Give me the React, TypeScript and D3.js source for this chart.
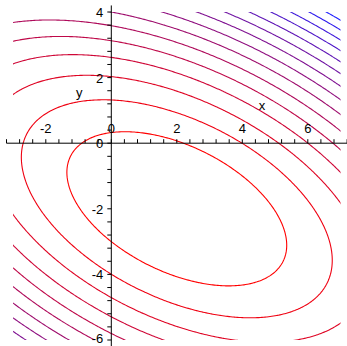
import React from 'react';
import * as d3 from 'd3';

// quadratic surface  f = a*u^2 + b*u*v + c*v^2,  u = x - cx, v = y - cy
const surfaceCentre = [2, -2];
const surfaceCoeffs = [1, 1.35, 2.04];

// contour values (evenly spaced)
const contourLevels = [8.75, 17.5, 26.25, 35, 43.75, 52.5, 61.25, 70, 78.75, 87.5, 96.25, 105, 113.75, 122.5, 131.25];

const xDomain = [-3, 7];
const yDomain = [-6, 4];
const xTickLabels = [-2, 0, 2, 4, 6];
const yTickLabels = [-6, -4, -2, 0, 2, 4];

const W = 347;
const H = 346;

export default function App() {
  const x = d3.scaleLinear().domain(xDomain).range([13.05, 340.55]);
  const y = d3.scaleLinear().domain(yDomain).range([340, 12]);

  // sample the surface on a grid a little larger than the plot, then clip
  const step = 0.05;
  const gx0 = xDomain[0] - 0.5, gy0 = yDomain[0] - 0.5;
  const nx = Math.round((xDomain[1] - xDomain[0] + 1) / step) + 1;
  const ny = Math.round((yDomain[1] - yDomain[0] + 1) / step) + 1;
  const [a, b, c] = surfaceCoeffs;
  const values = new Array(nx * ny);
  for (let j = 0; j < ny; j++) {
    for (let i = 0; i < nx; i++) {
      const u = gx0 + i * step - surfaceCentre[0];
      const v = gy0 + j * step - surfaceCentre[1];
      values[i + j * nx] = a * u * u + b * u * v + c * v * v;
    }
  }
  const contours = d3.contours().size([nx, ny]).thresholds(contourLevels)(values);

  const proj = d3.geoTransform({
    point: function (px, py) {
      this.stream.point(x(gx0 + (px - 0.5) * step), y(gy0 + (py - 0.5) * step));
    },
  });
  const path = d3.geoPath(proj);

  const lo = contourLevels[0], hi = contourLevels[contourLevels.length - 1];
  const colour = (v) => d3.interpolateRgb('#ff0000', '#2020ff')((v - lo) / (hi - lo));

  const x0 = x(0), y0 = y(0);
  const minorX = d3.range(-3.2, 7.21, 0.4);
  const minorY = d3.range(-6, 4.01, 0.4);

  return (
    <svg width={W} height={H} style={{ position: 'absolute', left: 0, top: 0, background: '#fff' }}
      fontFamily="'Liberation Sans', Arial, sans-serif" fontSize={13}>
      <defs>
        <clipPath id="plot">
          <rect x={x(xDomain[0])} y={y(yDomain[1])} width={x(xDomain[1]) - x(xDomain[0])} height={y(yDomain[0]) - y(yDomain[1])} />
        </clipPath>
      </defs>
      <g clipPath="url(#plot)">
        {contours.map((ct, k) => (
          <path key={k} d={path(ct)} fill="none" stroke={colour(ct.value)} strokeWidth={1.1} />
        ))}
      </g>

      {/* axes through the origin */}
      <g stroke="#000" strokeWidth={1}>
        <line x1={x(-3.2)} x2={x(7.2)} y1={y0} y2={y0} />
        <line x1={x0} x2={x0} y1={y(4.2)} y2={y(-6.2)} />
        {minorX.map((t, k) => (
          <line key={'tx' + k} x1={x(t)} x2={x(t)} y1={y0} y2={y0 - 4} />
        ))}
        {minorY.map((t, k) => (
          <line key={'ty' + k} x1={x0} x2={x0 - 4} y1={y(t)} y2={y(t)} />
        ))}
      </g>
      <g fill="#000">
        {xTickLabels.map((t) => (
          <text key={'lx' + t} x={x(t)} y={y0 - 10.5} textAnchor="middle">{t}</text>
        ))}
        {yTickLabels.map((t) => (
          <text key={'ly' + t} x={x0 - 8} y={Math.min(y(t) + 5, 343)} textAnchor="end">{t}</text>
        ))}
        <text x={x(4.6)} y={y(1.0)} textAnchor="middle">x</text>
        <text x={x(-0.98)} y={y(1.42)} textAnchor="middle">y</text>
      </g>
    </svg>
  );
}
